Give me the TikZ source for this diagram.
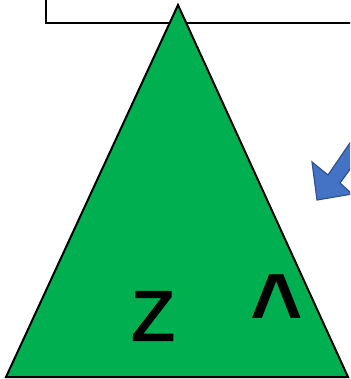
\documentclass[tikz,border=0pt]{standalone}
\usepackage{fontspec}
\setmainfont{Liberation Sans}
\newfontfamily\zfont[FakeBold=3]{Liberation Sans}
\definecolor{tgreen}{HTML}{00B050}
\definecolor{ablue}{HTML}{4472C4}
\definecolor{ablueline}{HTML}{2F528F}
\begin{document}
\begin{tikzpicture}[x=1pt,y=-1pt,
  outline/.style={draw=black,line width=2pt,line join=miter},
  bigtext/.style={inner sep=0pt,anchor=base,text=black}]
\useasboundingbox (0,0) rectangle (350,379);
\clip (0,0) rectangle (350,379);
% box at top
\draw[outline,fill=white] (46,-20) rectangle (370,23);
% triangle
\draw[outline,fill=tgreen] (178,5) -- (348,377) -- (6,377) -- cycle;
% block arrow
\draw[fill=ablue,draw=ablueline,line width=1.2pt,line join=miter]
  (317,200) -- (312,162) -- (328,175) -- (378,102) -- (392,112) -- (340,183) -- (352,194) -- cycle;
% labels
\node[bigtext,font=\zfont\fontsize{70}{70}\selectfont] (z) at (153,340) {Z};
\node[bigtext,font=\fontsize{100}{100}\selectfont\bfseries,xscale=0.9] (caret) at (277,343) {\textasciicircum};
\end{tikzpicture}
\end{document}
